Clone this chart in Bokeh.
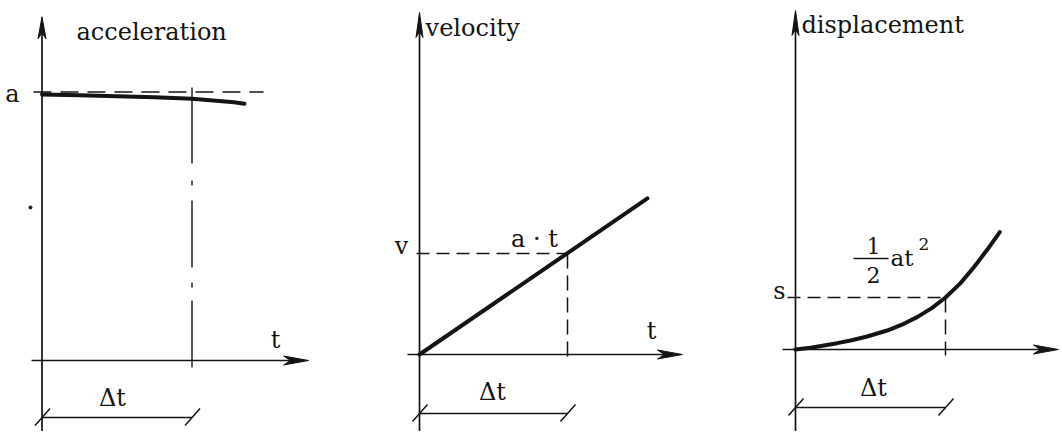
from bokeh.plotting import figure
from bokeh.layouts import row
from bokeh.models import Range1d
from bokeh.core.properties import value
from bokeh.embed import file_html
from bokeh.resources import INLINE

# ---------------- data (t in units of Δt) ----------------
titles = ["acceleration", "velocity", "displacement"]

# acceleration (units of a)
accel_t = [0.0, 0.25, 0.5, 0.75, 1.0, 1.28, 1.35]
accel_v = [0.991, 0.988, 0.984, 0.980, 0.975, 0.962, 0.956]
a_level = 1.0

# velocity (units of v = a·Δt)
vel_t = [0.0, 1.54]
vel_v = [0.0, 1.545]
v_level = 1.0

# displacement (units of s)
disp_t = [0.0, 0.1, 0.189, 0.278, 0.367, 0.478, 0.611, 0.722, 0.811, 0.911,
          1.0, 1.1, 1.189, 1.278, 1.362]
disp_s = [0.0, 0.032, 0.077, 0.122, 0.173, 0.25, 0.365, 0.494, 0.622, 0.801,
          1.0, 1.276, 1.583, 1.917, 2.256]
s_level = 1.0

dt = 1.0

INK = "#141414"
FONT = value("DejaVu Serif")
H = 431


def make_panel(left, width, ox, oy, sx, sy):
    p = figure(width=width, height=H,
               x_range=Range1d((left - ox) / sx, (left + width - ox) / sx),
               y_range=Range1d((oy - H) / sy, oy / sy),
               output_backend="svg", toolbar_location=None,
               x_axis_type=None, y_axis_type=None, min_border=0,
               outline_line_color=None, background_fill_color="white",
               border_fill_color="white")
    p.grid.visible = False
    return p


def px(sx):
    return lambda v: v / sx


def axes(p, sx, sy, x0, xtip, ybot, ytip, y_head=(22, 4, 16), x_head=(25, 4.5, 18)):
    dx, dy = px(sx), px(sy)
    # vertical axis
    p.line([0, 0], [ybot, ytip - dy(10)], line_color=INK, line_width=1.7)
    L, hw, n = y_head
    p.patch([0, dx(hw), 0, -dx(hw)],
            [ytip, ytip - dy(L), ytip - dy(n), ytip - dy(L)],
            fill_color=INK, line_color=INK, line_width=1)
    # horizontal axis
    p.line([x0, xtip - dx(10)], [0, 0], line_color=INK, line_width=1.7)
    L, hw, n = x_head
    p.patch([xtip, xtip - dx(L), xtip - dx(n), xtip - dx(L)],
            [0, dy(hw), 0, -dy(hw)],
            fill_color=INK, line_color=INK, line_width=1)


def dimension(p, sx, sy, y, x1, x2):
    dx, dy = px(sx), px(sy)
    p.line([x1, x2], [y, y], line_color=INK, line_width=1.5)
    for xe in (x1, x2):
        p.line([xe - dx(7), xe + dx(8)], [y - dy(8), y + dy(9)],
               line_color=INK, line_width=1.5)


def label(p, x, y, text, size="24px", align="left"):
    p.text(x=[x], y=[y], text=[text], text_font=FONT, text_font_size=size,
           text_align=align, text_baseline="alphabetic", text_color=INK,
           y_offset=-8)


# ---------------- panel 1: acceleration ----------------
sx1, sy1 = 150.0, 268.5
p1 = make_panel(0, 360, 41.5, 360, sx1, sy1)
axes(p1, sx1, sy1, -0.07, 1.777, -0.3, 1.28)
p1.line([-0.057, 1.477], [a_level, a_level], line_color=INK, line_width=1.5,
        line_dash="18 9")
p1.line(accel_t, accel_v, line_color=INK, line_width=4, line_cap="round")
p1.line([dt, dt], [1.017, -0.026], line_color=INK, line_width=1.4,
        line_dash="76 17 5 15 67 15 5 13 67")
p1.scatter([-0.077], [0.57], size=3, color=INK)
dimension(p1, sx1, sy1, -0.212, 0, dt)
label(p1, 0.23, 1.192, titles[0])
label(p1, -0.15, 0.964, "a", align="right")
label(p1, 1.557, 0.048, "t", align="center")
label(p1, 0.47, -0.168, "Δt", align="center")

# ---------------- panel 2: velocity ----------------
sx2, sy2 = 148.0, 101.0
p2 = make_panel(360, 370, 419, 354, sx2, sy2)
axes(p2, sx2, sy2, -0.081, 1.777, -0.8, 3.386, y_head=(25, 3.5, 19))
p2.line([-0.02, dt], [v_level, v_level], line_color=INK, line_width=1.5,
        line_dash="13 7")
p2.line([dt, dt], [v_level, -0.089], line_color=INK, line_width=1.5,
        line_dash="15 7")
p2.line(vel_t, vel_v, line_color=INK, line_width=4, line_cap="round")
dimension(p2, sx2, sy2, -0.584, 0, dt)
label(p2, 0.041, 3.158, titles[1])
label(p2, -0.122, 1.0, "v", align="center")
label(p2, 0.777, 1.06, "a · t", align="center")
label(p2, 1.568, 0.158, "t", align="center")
label(p2, 0.493, -0.455, "Δt", align="center")

# ---------------- panel 3: displacement ----------------
sx3, sy3 = 150.0, 52.0
p3 = make_panel(730, 330, 795, 349, sx3, sy3)
axes(p3, sx3, sy3, -0.087, 1.753, -1.6, 6.52, y_head=(25, 3.5, 19))
p3.line([-0.053, dt], [s_level, s_level], line_color=INK, line_width=1.5,
        line_dash="13 7")
p3.line([dt, dt], [s_level, -0.115], line_color=INK, line_width=1.5,
        line_dash="15 7")
p3.line(disp_t, disp_s, line_color=INK, line_width=4, line_cap="round",
        line_join="round")
dimension(p3, sx3, sy3, -1.115, 0, dt)
label(p3, 0.04, 6.096, titles[2])
label(p3, -0.107, 0.98, "s", align="center")
# ½ at² label
label(p3, 0.52, 1.827, "1", size="22px", align="center")
p3.line([0.387, 0.62], [1.75, 1.75], line_color=INK, line_width=1.3)
label(p3, 0.52, 1.288, "2", size="22px", align="center")
label(p3, 0.633, 1.606, "at", size="23px")
label(p3, 0.82, 1.87, "2", size="17px")
label(p3, 0.52, -0.885, "Δt", align="center")

layout = row(p1, p2, p3)
open("out.html", "w").write(file_html(layout, INLINE))
